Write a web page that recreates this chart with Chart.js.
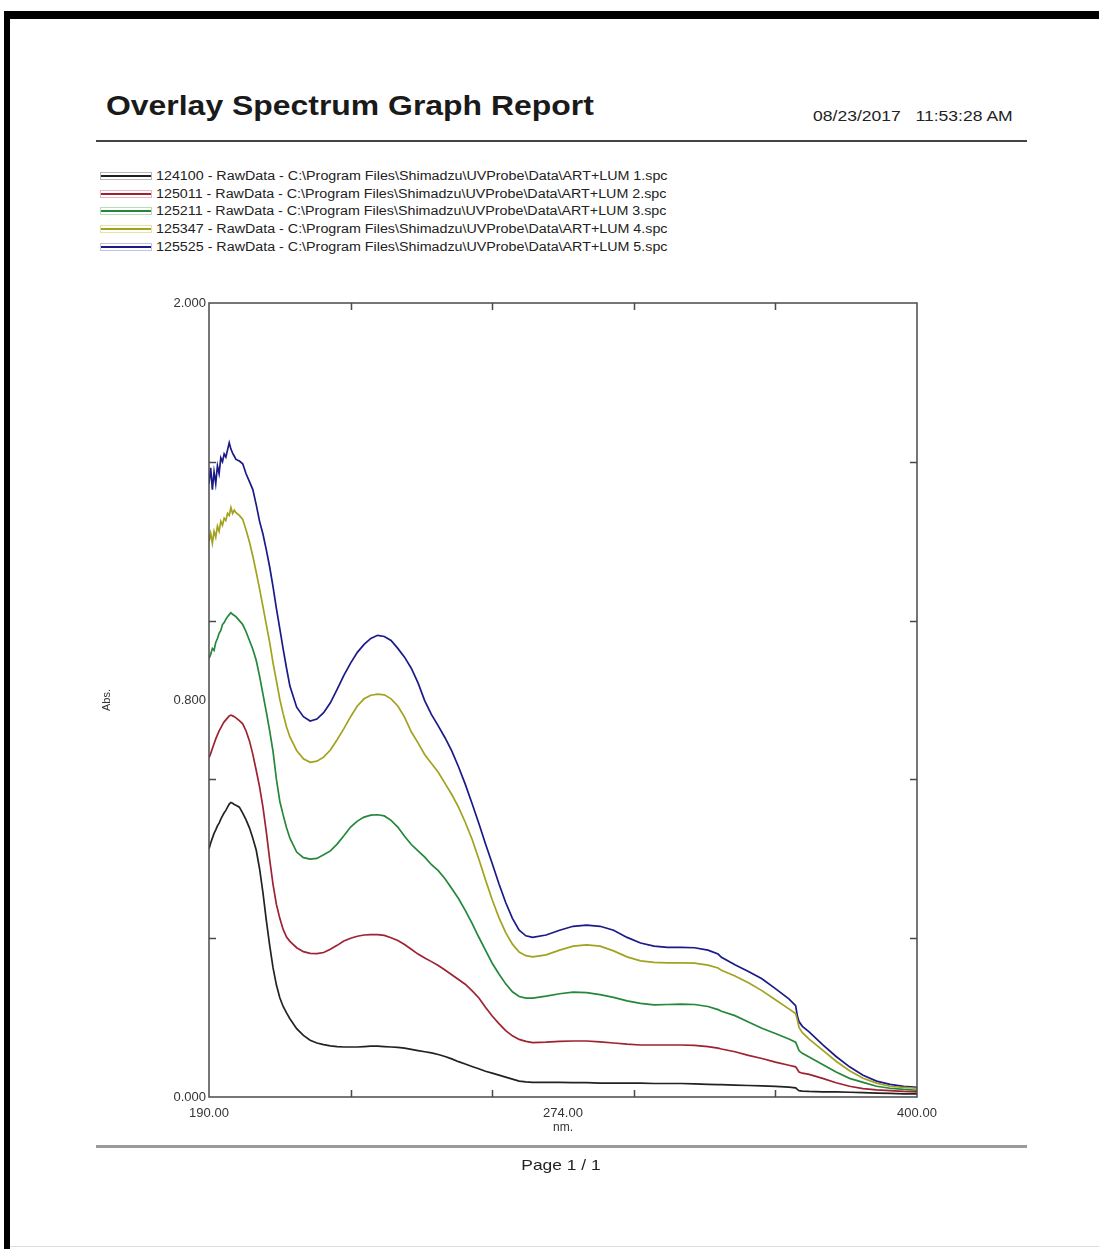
<!DOCTYPE html>
<html>
<head>
<meta charset="utf-8">
<title>Overlay Spectrum Graph Report</title>
<script src="https://cdn.jsdelivr.net/npm/chart.js@4.4.1/dist/chart.umd.min.js"></script>
<style>
  html, body { margin: 0; padding: 0; background: #fff; }
  body { width: 1099px; height: 1249px; position: relative; overflow: hidden;
         font-family: "Liberation Sans", Arial, sans-serif; color: #222; }
  #edgeTop { position: absolute; left: 4px; top: 11px; width: 1095px; height: 8px; background: #000; }
  #edgeLeft { position: absolute; left: 4px; top: 11px; width: 6px; height: 1238px; background: #000; }
  #edgeBottom { position: absolute; left: 10px; top: 1246px; width: 1089px; height: 1px; background: #ddd; }
  #title { position: absolute; left: 106px; top: 90px; font-size: 28px; font-weight: bold;
           color: #1a1a1a; white-space: nowrap; transform: scaleX(1.14); transform-origin: 0 0; }
  #stamp { position: absolute; left: 813px; top: 107px; font-size: 15px; white-space: pre; color: #222;
           transform: scaleX(1.17); transform-origin: 0 0; }
  .rule { position: absolute; left: 96px; width: 931px; }
  #ruleTop { top: 140px; height: 2px; background: #444; }
  #ruleBottom { top: 1145px; height: 3px; background: #9a9a9a; }
  #legend { position: absolute; left: 100px; top: 167px; }
  .row { height: 17.7px; display: flex; align-items: center; font-size: 12.5px;
         white-space: nowrap; color: #222; }
  .row b { font-weight: normal; display: inline-block; transform: scaleX(1.143); transform-origin: 0 50%; }
  .sw { width: 50px; height: 6px; border: 1px solid #bbb; position: relative; margin-right: 4px; }
  .sw i { position: absolute; left: 0; right: 0; top: 2px; height: 2px; }
  #page { position: absolute; left: 0; width: 1122px; top: 1156px; text-align: center; font-size: 15px;
          transform: scaleX(1.16); transform-origin: 561px 0; }
  #plot { position: absolute; left: 0; top: 0; }
</style>
</head>
<body>
<div id="edgeTop"></div>
<div id="edgeLeft"></div>
<div id="edgeBottom"></div>
<div id="title">Overlay Spectrum Graph Report</div>
<div id="stamp">08/23/2017   11:53:28 AM</div>
<div id="ruleTop" class="rule"></div>
<div id="legend"></div>
<canvas id="plot" width="1099" height="1249"></canvas>
<div id="ruleBottom" class="rule"></div>
<div id="page">Page 1 / 1</div>

<script>
// Wavelength grid (nm) shared by all five scans
const wavelengths = [
  190, 190.5, 191, 191.5, 192, 192.5, 193, 193.5, 194, 194.5, 195, 195.5, 196, 196.5, 197, 197.5, 198,
  199, 200, 201, 202, 203, 204, 205, 206, 207, 208, 209, 210, 211, 212, 213, 214,
  216, 218, 220, 222, 224, 226, 228, 230, 232, 234,
  236, 238, 240, 242, 244, 246, 248, 250, 252, 254,
  256, 258, 260, 262, 264, 266, 268, 270, 272, 274,
  276, 278, 280, 282, 284, 286,
  290, 294, 298, 302, 306, 310, 314, 318, 322, 326, 330, 334, 338,
  341, 342, 346, 350, 354, 358, 362, 364, 364.5, 365, 366, 368,
  372, 376, 380, 384, 388, 392, 396, 400
];

// Absorbance of each scan
const abs124100 = [
  0.625, 0.640, 0.652, 0.664, 0.673, 0.683, 0.690, 0.700, 0.708, 0.716, 0.722, 0.730, 0.738, 0.742, 0.740, 0.737, 0.735,
  0.730, 0.715, 0.698, 0.678, 0.652, 0.622, 0.575, 0.515, 0.445, 0.382, 0.325, 0.282, 0.250, 0.228, 0.212, 0.197,
  0.172, 0.155, 0.143, 0.136, 0.132, 0.129, 0.127, 0.126, 0.126, 0.126,
  0.127, 0.128, 0.128, 0.127, 0.126, 0.125, 0.123, 0.120, 0.117, 0.114,
  0.111, 0.107, 0.102, 0.096, 0.089, 0.083, 0.077, 0.071, 0.065, 0.060,
  0.055, 0.050, 0.045, 0.040, 0.038, 0.037,
  0.037, 0.037, 0.036, 0.036, 0.035, 0.035, 0.035, 0.035, 0.034, 0.034, 0.034, 0.033, 0.032,
  0.031, 0.031, 0.030, 0.029, 0.028, 0.027, 0.025, 0.023, 0.019, 0.016, 0.015, 0.014,
  0.013, 0.013, 0.012, 0.011, 0.010, 0.009, 0.008, 0.008
];
const abs125011 = [
  0.855, 0.865, 0.878, 0.890, 0.902, 0.912, 0.922, 0.930, 0.938, 0.945, 0.950, 0.955, 0.960, 0.962, 0.960, 0.958, 0.955,
  0.948, 0.940, 0.922, 0.897, 0.863, 0.823, 0.781, 0.730, 0.668, 0.598, 0.535, 0.485, 0.450, 0.422, 0.403, 0.392,
  0.376, 0.366, 0.362, 0.361, 0.364, 0.372, 0.382, 0.393, 0.400, 0.405,
  0.408, 0.409, 0.409, 0.407, 0.401, 0.394, 0.384, 0.372, 0.360, 0.350,
  0.341, 0.331, 0.320, 0.308, 0.296, 0.284, 0.268, 0.250, 0.226, 0.204,
  0.185, 0.167, 0.154, 0.145, 0.140, 0.137,
  0.138, 0.140, 0.141, 0.141, 0.139, 0.136, 0.133, 0.131, 0.131, 0.131, 0.131, 0.130, 0.127,
  0.123, 0.121, 0.114, 0.105, 0.097, 0.088, 0.080, 0.076, 0.070, 0.063, 0.060, 0.057,
  0.047, 0.036, 0.027, 0.021, 0.018, 0.016, 0.014, 0.013
];
const abs125211 = [
  1.105, 1.115, 1.130, 1.125, 1.145, 1.155, 1.168, 1.175, 1.190, 1.195, 1.203, 1.210, 1.215, 1.220, 1.216, 1.213, 1.210,
  1.200, 1.190, 1.172, 1.150, 1.128, 1.100, 1.060, 1.015, 0.970, 0.922, 0.870, 0.800, 0.745, 0.710, 0.678, 0.652,
  0.617, 0.603, 0.599, 0.601, 0.610, 0.620, 0.637, 0.658, 0.680, 0.695,
  0.705, 0.710, 0.711, 0.708, 0.697, 0.680, 0.657, 0.636, 0.620, 0.604,
  0.585, 0.570, 0.550, 0.525, 0.500, 0.470, 0.438, 0.403, 0.370, 0.337,
  0.310, 0.285, 0.265, 0.253, 0.249, 0.249,
  0.254, 0.260, 0.264, 0.263, 0.258, 0.251, 0.242, 0.236, 0.232, 0.233, 0.234, 0.233, 0.228,
  0.220, 0.216, 0.205, 0.189, 0.173, 0.160, 0.146, 0.138, 0.128, 0.117, 0.110, 0.101,
  0.082, 0.063, 0.047, 0.037, 0.027, 0.022, 0.019, 0.017
];
const abs125347 = [
  1.400, 1.420, 1.395, 1.425, 1.410, 1.438, 1.425, 1.450, 1.440, 1.458, 1.452, 1.470, 1.465, 1.485, 1.470, 1.478, 1.472,
  1.465, 1.455, 1.428, 1.398, 1.362, 1.322, 1.280, 1.235, 1.190, 1.145, 1.093, 1.048, 1.002, 0.965, 0.932, 0.907,
  0.873, 0.852, 0.843, 0.846, 0.856, 0.874, 0.900, 0.928, 0.958, 0.985,
  1.003, 1.012, 1.015, 1.013, 1.003, 0.985, 0.957, 0.920, 0.892, 0.862,
  0.840, 0.818, 0.790, 0.762, 0.730, 0.692, 0.650, 0.600, 0.547, 0.497,
  0.452, 0.414, 0.385, 0.365, 0.356, 0.353,
  0.358, 0.370, 0.380, 0.383, 0.380, 0.368, 0.353, 0.343, 0.339, 0.338, 0.338, 0.337, 0.332,
  0.325, 0.319, 0.305, 0.288, 0.268, 0.245, 0.222, 0.210, 0.195, 0.175, 0.162, 0.146,
  0.118, 0.090, 0.066, 0.047, 0.035, 0.027, 0.024, 0.022
];
const abs125525 = [
  1.545, 1.585, 1.530, 1.575, 1.545, 1.590, 1.570, 1.610, 1.600, 1.620, 1.612, 1.630, 1.648, 1.632, 1.622, 1.614, 1.606,
  1.602, 1.595, 1.570, 1.550, 1.530, 1.492, 1.450, 1.418, 1.378, 1.335, 1.285, 1.230, 1.180, 1.128, 1.080, 1.035,
  0.982, 0.958, 0.947, 0.952, 0.968, 0.993, 1.027, 1.062, 1.093, 1.120,
  1.140, 1.155, 1.163, 1.160, 1.150, 1.130, 1.108, 1.080, 1.043, 0.998,
  0.963, 0.935, 0.905, 0.872, 0.832, 0.788, 0.740, 0.690, 0.638, 0.588,
  0.537, 0.490, 0.450, 0.420, 0.406, 0.402,
  0.408, 0.420, 0.430, 0.433, 0.430, 0.420, 0.402, 0.388, 0.380, 0.377, 0.377, 0.376, 0.370,
  0.360, 0.352, 0.333, 0.316, 0.298, 0.273, 0.247, 0.230, 0.205, 0.190, 0.178, 0.164,
  0.132, 0.102, 0.076, 0.055, 0.040, 0.032, 0.027, 0.024
];

const seriesIds = ['124100', '125011', '125211', '125347', '125525'];
const seriesFiles = ['ART+LUM 1.spc', 'ART+LUM 2.spc', 'ART+LUM 3.spc', 'ART+LUM 4.spc', 'ART+LUM 5.spc'];
const seriesValues = [abs124100, abs125011, abs125211, abs125347, abs125525];
const seriesColors = ['#222222', '#9e2231', '#24873a', '#a2a21e', '#1a1a88'];
const seriesRims = ['#b8b8b8', '#e6b8c0', '#b8dcc0', '#e4e4a8', '#c0c0e8'];
const dataFolder = 'C:\\Program Files\\Shimadzu\\UVProbe\\Data\\';

// Axis labelling: labels at start, centre and end; tick marks at fifths
const xTickValues = [190, 295, 400];
const xTickLabels = ['190.00', '274.00', '400.00'];
const yTickValues = [0, 1, 2];
const yTickLabels = ['0.000', '0.800', '2.000'];
const xMarkValues = [232, 274, 316, 358];
const yMarkValues = [0.4, 0.8, 1.2, 1.6];

// Legend rows
const legendBox = document.getElementById('legend');
seriesIds.forEach((id, i) => {
  const row = document.createElement('div');
  row.className = 'row';
  const sw = document.createElement('span');
  sw.className = 'sw';
  sw.style.borderColor = seriesRims[i];
  const line = document.createElement('i');
  line.style.background = seriesColors[i];
  sw.appendChild(line);
  row.appendChild(sw);
  const txt = document.createElement('b');
  txt.textContent = id + ' - RawData - ' + dataFolder + seriesFiles[i];
  row.appendChild(txt);
  legendBox.appendChild(row);
});

// Plot frame with inward tick marks on all four sides
const frameTicks = {
  id: 'frameTicks',
  afterDatasetsDraw(chart) {
    const { ctx, chartArea: a, scales: { x, y } } = chart;
    const len = 7;
    ctx.save();
    ctx.strokeStyle = '#4a4a4a';
    ctx.lineWidth = 1.5;
    ctx.strokeRect(a.left, a.top, a.right - a.left, a.bottom - a.top);
    ctx.beginPath();
    xMarkValues.forEach(v => {
      const px = Math.round(x.getPixelForValue(v)) + 0.5;
      ctx.moveTo(px, a.bottom); ctx.lineTo(px, a.bottom - len);
      ctx.moveTo(px, a.top); ctx.lineTo(px, a.top + len);
    });
    yMarkValues.forEach(v => {
      const py = Math.round(y.getPixelForValue(v)) + 0.5;
      ctx.moveTo(a.left, py); ctx.lineTo(a.left + len, py);
      ctx.moveTo(a.right, py); ctx.lineTo(a.right - len, py);
    });
    ctx.stroke();
    ctx.restore();
  }
};

const labelFont = { family: '"Liberation Sans", Arial, sans-serif', size: 13 };

new Chart(document.getElementById('plot'), {
  type: 'line',
  data: {
    datasets: seriesIds.map((id, i) => ({
      label: id,
      data: wavelengths.map((w, k) => ({ x: w, y: seriesValues[i][k] })),
      borderColor: seriesColors[i],
      borderWidth: 1.7,
      pointRadius: 0,
      tension: 0,
      fill: false
    }))
  },
  options: {
    responsive: false,
    animation: false,
    devicePixelRatio: 1,
    layout: { padding: { top: 303, right: 182, bottom: 112, left: 0 } },
    plugins: { legend: { display: false }, tooltip: { enabled: false } },
    scales: {
      x: {
        type: 'linear',
        min: 190,
        max: 400,
        grid: { display: false, drawTicks: false },
        border: { display: false },
        afterBuildTicks: s => { s.ticks = xTickValues.map(v => ({ value: v })); },
        afterFit: s => { s.height = 40; },
        ticks: {
          autoSkip: false,
          maxRotation: 0,
          padding: 9,
          color: '#333',
          font: labelFont,
          callback: (v, i) => xTickLabels[i]
        },
        title: { display: true, text: 'nm.', color: '#333',
                 font: { family: '"Liberation Sans", Arial, sans-serif', size: 12 },
                 padding: { top: 0, bottom: 2 } }
      },
      y: {
        type: 'linear',
        min: 0,
        max: 2,
        grid: { display: false, drawTicks: false },
        border: { display: false },
        afterBuildTicks: s => { s.ticks = yTickValues.map(v => ({ value: v })); },
        afterFit: s => { s.width = 209; },
        ticks: {
          autoSkip: false,
          padding: 3,
          color: '#333',
          font: labelFont,
          callback: (v, i) => yTickLabels[i]
        },
        title: { display: true, text: 'Abs.', color: '#333',
                 font: { family: '"Liberation Sans", Arial, sans-serif', size: 11 },
                 padding: { top: 100, bottom: 0 } }
      }
    }
  },
  plugins: [frameTicks]
});
</script>
</body>
</html>
